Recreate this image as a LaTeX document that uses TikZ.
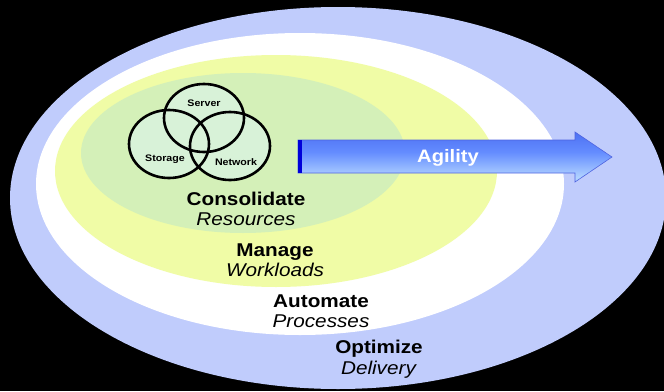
\documentclass[tikz,border=0pt]{standalone}
\usepackage{fontspec}
\setmainfont[FakeStretch=1.12]{Liberation Sans}
\usetikzlibrary{calc}
\definecolor{ringblue}{RGB}{192,204,252}
\definecolor{ringyellow}{RGB}{240,252,166}
\definecolor{ringgreen}{RGB}{212,240,184}
\definecolor{vennfill}{RGB}{216,242,216}
\definecolor{arrowtop}{RGB}{66,100,236}
\definecolor{arrowmid}{RGB}{100,140,255}
\definecolor{arrowlow}{RGB}{176,210,255}
\definecolor{arrowedge}{RGB}{80,100,224}
\pgfdeclareverticalshading{agilityshade}{100bp}{color(0bp)=(arrowedge); color(10bp)=(arrowlow); color(30bp)=(arrowlow); color(55bp)=(arrowmid); color(85bp)=(arrowtop); color(100bp)=(arrowtop)}
\tikzset{ring/.style={draw=none}, venn/.style={draw=black, line width=2.6pt},
stage/.style={align=center, inner sep=0pt, font=\fontsize{18.5}{20.5}\selectfont},
vennlabel/.style={inner sep=0pt, font=\fontsize{9.5}{10}\selectfont\bfseries}}

\begin{document}
\begin{tikzpicture}[x=1pt, y=-1pt]
\useasboundingbox (0,0) rectangle (664,391);
\fill[black] (0,0) rectangle (664,391);

% Rings
\fill[ringblue] (338,198) ellipse [x radius=328, y radius=191];
\fill[white] (300,184) ellipse [x radius=264, y radius=151];
\fill[ringyellow] (276,171) ellipse [x radius=221, y radius=116];
\fill[ringgreen] (243,153) ellipse [x radius=162, y radius=80];

% Venn circles
\fill[vennfill] (204,118) ellipse [x radius=40, y radius=34]
  (169,144) ellipse [x radius=40, y radius=34]
  (230,146) ellipse [x radius=40, y radius=34];
\draw[venn] (204,118) ellipse [x radius=40, y radius=34];
\draw[venn] (169,144) ellipse [x radius=40, y radius=34];
\draw[venn] (230,146) ellipse [x radius=40, y radius=34];
\node[vennlabel] (server) at (204,103) {Server};
\node[vennlabel] (storage) at (165,159) {Storage};
\node[vennlabel] (network) at (236,162) {Network};

% Arrow
\shade[shading=agilityshade, draw=arrowedge, line width=0.6pt]
  (298,140) -- (575,140) -- (575,132) -- (612,157) -- (575,182) -- (575,173) -- (298,173) -- cycle;
\fill[blue!85!black] (298,140) rectangle (301.5,173);
\node[font=\fontsize{18}{20}\selectfont\bfseries, text=white, inner sep=0pt] (agility) at (448,158) {Agility};

% Stages
\node[stage] (consolidate) at (246,209) {\textbf{Consolidate}\\\textit{Resources}};
\node[stage] (manage) at (275,260) {\textbf{Manage}\\\textit{Workloads}};
\node[stage] (automate) at (321,311) {\textbf{Automate}\\\textit{Processes}};
\node[stage] (optimize) at (379,359) {\textbf{Optimize}\\\textit{Delivery}};
\end{tikzpicture}
\end{document}
